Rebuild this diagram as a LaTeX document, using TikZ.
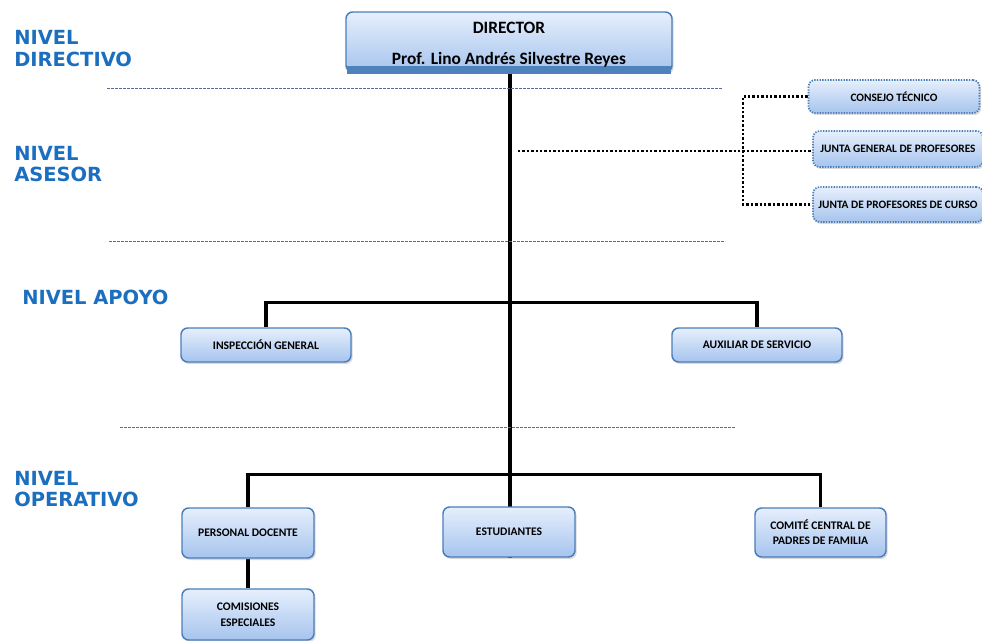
\documentclass[tikz,border=0pt]{standalone}
\usepackage{fontspec}
\setmainfont{Carlito}
\newfontfamily\lvlfont{DejaVu Sans}
\usetikzlibrary{shadows,backgrounds}
\definecolor{lvlblue}{HTML}{1C6EBF}
\definecolor{bordblue}{HTML}{4A7EBB}
\definecolor{toplight}{HTML}{E6EFFC}
\definecolor{botblue}{HTML}{A6C4EE}
\definecolor{bandblue}{HTML}{4F81BD}
\definecolor{dashcol}{HTML}{4F6F9A}
\begin{document}
\begin{tikzpicture}[x=0.75pt,y=-0.75pt,
  wh/.style 2 args={minimum width=#1*0.75pt, minimum height=#2*0.75pt},
  orgbox/.style={draw=bordblue, line width=1.1pt, rounded corners=5pt,
    top color=toplight, bottom color=botblue,
    drop shadow={opacity=0.3,shadow xshift=1.2pt,shadow yshift=-1.5pt},
    font=\bfseries\fontsize{8.7}{11.5}\selectfont, align=center, inner sep=0pt},
  asebox/.style={orgbox, draw=bordblue, dash pattern=on 1pt off 1pt, line width=1.3pt,
    font=\bfseries\fontsize{8.5}{10}\selectfont},
  lvl/.style={anchor=base west, inner sep=0pt, align=left, text=lvlblue,
    font=\lvlfont\bfseries\fontsize{14.6}{16.2}\selectfont},
  sepline/.style={draw=dashcol, line width=0.6pt, dash pattern=on 2pt off 1pt},
  mainline/.style={draw=black, line width=2.3pt},
  dotline/.style={draw=black, line width=2pt, dash pattern=on 1.8pt off 1.5pt}
]
\useasboundingbox (0,0) rectangle (982,641);

% level labels (base = last line)
\node[lvl] (ldir) at (14,66.5) {NIVEL\\DIRECTIVO};
\node[lvl] (lase) at (14,181.7) {NIVEL\\ASESOR};
\node[lvl] (lapo) at (22,305) {NIVEL APOYO};
\node[lvl] (lope) at (14,507) {NIVEL\\OPERATIVO};

% separators
\coordinate (s1a) at (107,88);  \coordinate (s1b) at (722,88);
\coordinate (s2a) at (109,241); \coordinate (s2b) at (725,241);
\coordinate (s3a) at (120,427); \coordinate (s3b) at (735,427);
\draw[sepline] (s1a) -- (s1b);
\draw[sepline] (s2a) -- (s2b);
\draw[sepline] (s3a) -- (s3b);

% director
\node[orgbox, wh={326}{60}] (director) at (509,42) {};
\fill[bandblue] (347,66) rectangle (671,74);
\node[align=center, inner sep=0pt, font=\bfseries\fontsize{13}{16}\selectfont] (dirtext) at (509,44.5)
  {DIRECTOR\\[7.3pt]Prof. Lino Andrés Silvestre Reyes};
\coordinate (dirbot) at (510,74);

% asesor
\node[asebox, wh={171}{33}] (consejo) at (894,96.5) {CONSEJO TÉCNICO};
\node[asebox, wh={170}{36}] (juntagen) at (898,149) {JUNTA GENERAL DE PROFESORES};
\node[asebox, wh={170}{35}] (juntacur) at (898,204.5) {JUNTA DE PROFESORES DE CURSO};
\coordinate (brk) at (743,0);
\coordinate (asestart) at (518,151);

% apoyo
\node[orgbox, wh={170}{34}] (insp) at (266,345) {INSPECCIÓN GENERAL};
\node[orgbox, wh={170}{34}] (aux) at (757,345) {AUXILIAR DE SERVICIO};

% operativo
\node[orgbox, wh={132}{50}] (pdoc) at (248,533) {PERSONAL DOCENTE};
\node[orgbox, wh={132}{50}] (estu) at (509,532) {ESTUDIANTES};
\node[orgbox, wh={131}{49}] (comite) at (820.5,532.5) {COMITÉ CENTRAL DE\\PADRES DE FAMILIA};
\node[orgbox, wh={132}{51}, font=\bfseries\fontsize{8.7}{12}\selectfont] (comis) at (248,614.5) {COMISIONES\\ESPECIALES};
\coordinate (mainend) at (510,558);

\begin{pgfonlayer}{background}
  \draw[mainline] (dirbot) -- (mainend);
  \draw[mainline] (insp.north) -- ++(0,-25) -| (aux.north);
  \draw[mainline] (pdoc.north) -- ++(0,-33) -| (comite.north);
  \draw[mainline] (pdoc.south) -- (comis.north);
  \draw[dotline] (consejo.west) -| (brk |- juntacur.west) -- (juntacur.west);
  \draw[dotline] (asestart) -- (juntagen.west |- asestart);
\end{pgfonlayer}
\end{tikzpicture}
\end{document}
